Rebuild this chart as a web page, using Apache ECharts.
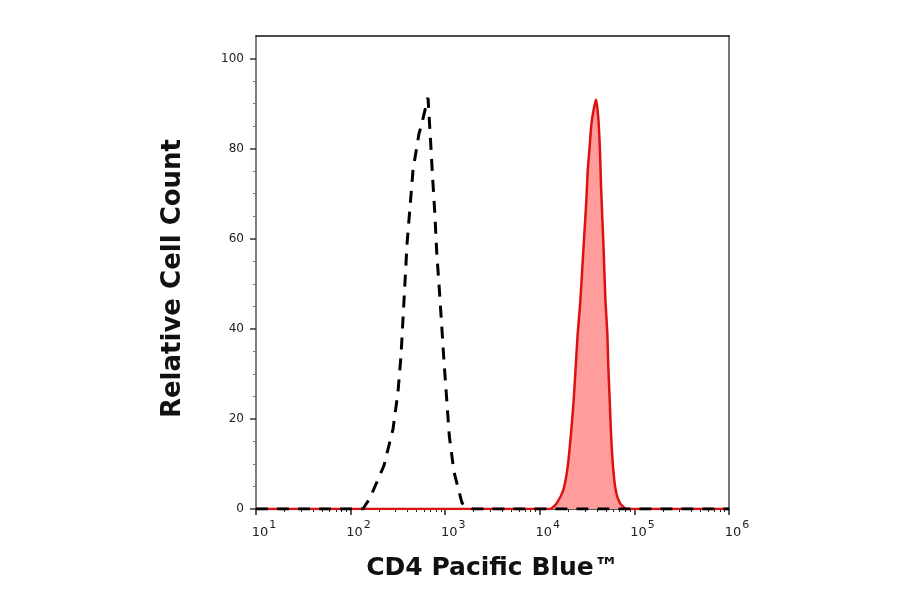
<!DOCTYPE html>
<html>
<head>
<meta charset="utf-8">
<script src="https://cdn.jsdelivr.net/npm/echarts@6/dist/echarts.min.js"></script>
<style>html,body{margin:0;padding:0;background:#fff}#c{width:900px;height:594px}</style>
</head>
<body>
<div id="c"></div>
<script>
// Isotype control (black dashed): fluorescence intensity vs relative count
const controlX = [10, 30, 80, 135, 160, 225, 281, 317, 341, 358, 376, 395, 425, 457, 528, 555, 658, 700, 735, 777, 813, 866, 919, 971, 1037, 1105, 1239, 1507, 1966, 3000, 1000000];
const controlY = [0, 0, 0, 0, 2.4, 9.6, 17.8, 26, 34, 42.2, 50.4, 58.9, 67.1, 75.3, 83.3, 84.9, 91.3, 81.8, 73.8, 65.6, 57.1, 48.9, 40.7, 32.7, 24.4, 16.2, 8.2, 1.3, 0, 0, 0];
// CD4 Pacific Blue stained (red filled)
const stainX = [10, 1000, 10000, 12830, 15100, 17720, 19720, 21380, 22820, 23970, 25170, 26800, 28130, 29530, 31020, 32080, 33360, 35370, 39290, 41520, 43290, 44350, 45800, 47350, 49450, 51760, 53010, 54830, 56590, 59430, 63420, 70400, 82960, 100000, 1000000];
const stainY = [0, 0, 0, 0, 1.3, 4.2, 9.4, 16.8, 24.2, 31.6, 39, 46, 53.5, 60.9, 68.3, 75, 79.4, 86, 90.9, 86.8, 79.4, 72, 64.6, 57.2, 46, 39, 31.6, 24.2, 16.8, 9.4, 4.2, 1.3, 0, 0, 0];
// Axis ticks
const xMajorTicks = [10, 100, 1000, 10000, 100000, 1000000];
const xMinorTicks = [];
for (let d = 10; d < 1000000; d *= 10) { for (let m = 2; m <= 9; m++) xMinorTicks.push(m * d); }
const yMajorTicks = [0, 20, 40, 60, 80, 100];
const yMinorTicks = [5, 10, 15, 25, 30, 35, 45, 50, 55, 65, 70, 75, 85, 90, 95];

const zip = (a, b) => a.map((v, i) => [v, b[i]]);
const chart = echarts.init(document.getElementById('c'), null, {renderer: 'canvas'});
const xBase = {type: 'log', min: 10, max: 1000000, logBase: 10, splitLine: {show: false}};
const yBase = {type: 'value', min: 0, max: 105, splitLine: {show: false}};
chart.setOption({
  animation: false,
  backgroundColor: '#fff',
  grid: {left: 256, right: 171, top: 36, bottom: 85},
  xAxis: [
    Object.assign({}, xBase, {
      position: 'bottom',
      name: 'CD4 Pacific Blue™', nameLocation: 'middle', nameGap: 47,
      nameTextStyle: {fontFamily: 'DejaVu Sans', fontWeight: 'bold', fontSize: 25, color: '#111'},
      axisLine: {show: true, onZero: false, lineStyle: {color: '#222', width: 1.5}},
      axisTick: {show: true, length: 6, inside: false, customValues: xMajorTicks, lineStyle: {color: '#222', width: 1.5}},
      axisLabel: {
        show: true, margin: 8, customValues: xMajorTicks, padding: [0, 0, 0, 16],
        formatter: v => '{b|10}{s|' + Math.round(Math.log10(v)) + '}',
        rich: {
          b: {fontFamily: 'DejaVu Sans', fontSize: 13, color: '#222', padding: [9, 0, 0, 0]},
          s: {fontFamily: 'DejaVu Sans', fontSize: 11, color: '#222', padding: [0, 0, 6, 1]}
        }
      }
    }),
    Object.assign({}, xBase, {
      position: 'bottom',
      axisLine: {show: false, onZero: false},
      axisTick: {show: true, length: 3, customValues: xMinorTicks, lineStyle: {color: '#222', width: 1}},
      axisLabel: {show: false}
    }),
    Object.assign({}, xBase, {
      position: 'top',
      axisLine: {show: true, onZero: false, lineStyle: {color: '#111', width: 1.5}},
      axisTick: {show: false}, axisLabel: {show: false}
    })
  ],
  yAxis: [
    Object.assign({}, yBase, {
      position: 'left',
      name: 'Relative Cell Count', nameLocation: 'middle', nameGap: 70,
      nameTextStyle: {fontFamily: 'DejaVu Sans', fontWeight: 'bold', fontSize: 26, color: '#111', padding: [0, 12, 0, 0]},
      axisLine: {show: true, onZero: false, lineStyle: {color: '#555', width: 1.5}},
      axisTick: {show: true, length: 6, customValues: yMajorTicks, lineStyle: {color: '#333', width: 1.5}},
      axisLabel: {show: true, margin: 12, customValues: yMajorTicks, fontFamily: 'DejaVu Sans', fontSize: 12, color: '#222'}
    }),
    Object.assign({}, yBase, {
      position: 'left',
      axisLine: {show: false, onZero: false},
      axisTick: {show: true, length: 3, customValues: yMinorTicks, lineStyle: {color: '#777', width: 1}},
      axisLabel: {show: false}
    }),
    Object.assign({}, yBase, {
      position: 'right',
      axisLine: {show: true, onZero: false, lineStyle: {color: '#777', width: 2}},
      axisTick: {show: false}, axisLabel: {show: false}
    })
  ],
  series: [
    {
      type: 'line', xAxisIndex: 0, yAxisIndex: 0,
      data: zip(stainX, stainY), showSymbol: false, symbol: 'none', smooth: 0.2,
      lineStyle: {color: '#dd1111', width: 2.5},
      areaStyle: {color: '#ff9c9c', opacity: 1}
    },
    {
      type: 'line', xAxisIndex: 0, yAxisIndex: 0,
      data: zip(controlX, controlY), showSymbol: false, symbol: 'none', smooth: false,
      lineStyle: {color: '#000', width: 3, type: [12, 9]}
    }
  ]
});
</script>
</body>
</html>
